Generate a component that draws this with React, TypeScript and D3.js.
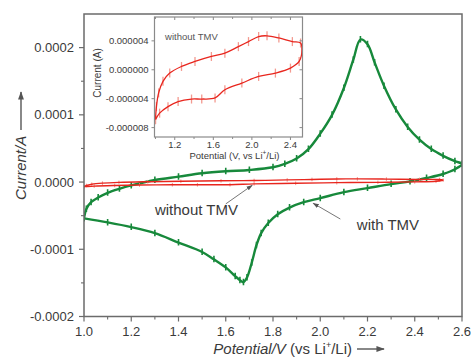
import React from 'react';
import * as d3 from 'd3';

const W = 473;
const H = 359;

// with TMV: anodic scan 1.0 -> 2.6 V, then cathodic scan back to 1.0 V
const withTmvPotential = [
  1.0, 1.01, 1.03, 1.06, 1.1, 1.15, 1.2, 1.3, 1.4, 1.5, 1.6, 1.7, 1.8, 1.85, 1.9, 1.95, 2.0, 2.05, 2.1, 2.14,
  2.17, 2.2, 2.23, 2.27, 2.32, 2.37, 2.42, 2.47, 2.52, 2.57, 2.6,
  2.57, 2.52, 2.45, 2.38, 2.3, 2.2, 2.1, 2.0, 1.93, 1.87, 1.82, 1.78, 1.75, 1.73, 1.71, 1.69, 1.675, 1.66,
  1.64, 1.6, 1.55, 1.5, 1.4, 1.3, 1.2, 1.1, 1.0,
];
const withTmvCurrent = [
  -5.4e-5, -4.0e-5, -3.0e-5, -2.3e-5, -1.6e-5, -1.0e-5, -0.5e-5, 0.3e-5, 0.8e-5, 1.3e-5, 1.6e-5, 1.8e-5, 2.2e-5,
  2.7e-5, 3.5e-5, 4.9e-5, 7.2e-5, 10.0e-5, 14.0e-5, 18.2e-5, 21.2e-5, 20.5e-5, 17.8e-5, 14.3e-5, 10.8e-5,
  8.2e-5, 6.3e-5, 4.9e-5, 3.9e-5, 3.1e-5, 2.7e-5,
  1.9e-5, 1.2e-5, 0.6e-5, 0.1e-5, -0.3e-5, -0.9e-5, -1.5e-5, -2.4e-5, -3.0e-5, -3.8e-5, -4.8e-5, -6.1e-5,
  -7.6e-5, -9.4e-5, -12.0e-5, -14.2e-5, -14.9e-5, -14.6e-5, -14.0e-5, -12.7e-5, -11.5e-5, -10.4e-5, -9.0e-5,
  -7.6e-5, -6.7e-5, -6.0e-5, -5.4e-5,
];

// without TMV (also shown enlarged in the inset)
const withoutTmvPotential = [
  1.0, 1.01, 1.033, 1.078, 1.148, 1.27, 1.41, 1.58, 1.72, 1.86, 1.965, 2.07, 2.157, 2.28, 2.42, 2.505, 2.52,
  2.49, 2.4, 2.244, 2.07, 1.896, 1.72, 1.618, 1.48, 1.374, 1.235, 1.13, 1.043, 1.0,
];
const withoutTmvCurrent = [
  -6.9e-6, -5.1e-6, -3.2e-6, -1.6e-6, -0.46e-6, 0.46e-6, 1.15e-6, 1.84e-6, 2.3e-6, 3.2e-6, 3.9e-6, 4.6e-6,
  4.7e-6, 4.4e-6, 3.9e-6, 3.7e-6, 2.8e-6,
  1.15e-6, 0.23e-6, -0.46e-6, -0.92e-6, -1.84e-6, -2.77e-6, -3.9e-6, -4.05e-6, -4.05e-6, -4.4e-6, -5.1e-6,
  -6.0e-6, -6.9e-6,
];

const mainXTicks = [1.0, 1.2, 1.4, 1.6, 1.8, 2.0, 2.2, 2.4, 2.6];
const mainXMinor = [1.1, 1.3, 1.5, 1.7, 1.9, 2.1, 2.3, 2.5];
const mainYTicks = [-0.0002, -0.0001, 0, 0.0001, 0.0002];
const mainYMinor = [-0.00015, -0.00005, 0.00005, 0.00015];
const insetXTicks = [1.2, 1.6, 2.0, 2.4];
const insetXMinor = [1.0, 1.4, 1.8, 2.2];
const insetYTicks = [-0.000008, -0.000004, 0, 0.000004];

const GREEN = '#17893b';
const RED = '#e8261e';
const AXIS = '#6b6b6b';
const TEXT = '#3a3a3a';
const FONT = '"Liberation Sans", Arial, sans-serif';

const fmt = d3.formatLocale({ decimal: '.', thousands: ',', grouping: [3], currency: ['', ''], minus: '-' });
const f4 = fmt.format('.4f');
const f6 = fmt.format('.6f');
const f1 = fmt.format('.1f');

const App: React.FC = () => {
  const x = d3.scaleLinear().domain([1.0, 2.6]).range([84, 462]);
  const y = d3.scaleLinear().domain([-0.0002, 0.00025]).range([316.5, 14]);
  const ix = d3.scaleLinear().domain([0.99, 2.525]).range([154.5, 302.5]);
  const iy = d3.scaleLinear().domain([-0.0000093, 0.0000073]).range([137, 17]);

  const withPts = withTmvPotential.map((v, i) => [v, withTmvCurrent[i]] as [number, number]);
  const withoutPts = withoutTmvPotential.map((v, i) => [v, withoutTmvCurrent[i]] as [number, number]);

  const mainLine = d3.line<[number, number]>().x(d => x(d[0])).y(d => y(d[1])).curve(d3.curveCatmullRom.alpha(0.5));
  const insetLine = d3.line<[number, number]>().x(d => ix(d[0])).y(d => iy(d[1])).curve(d3.curveCatmullRom.alpha(0.5));

  const [x0, x1] = x.range();
  const [yb, yt] = y.range();
  const [ix0, ix1] = ix.range();
  const [iyb, iyt] = iy.range();

  const annotations = [
    { label: 'without TMV', tx: 1.3, ty: -0.000049, from: [1.6, -0.0000325], to: [1.712, -0.0000048] },
    { label: 'with TMV', tx: 2.155, ty: -0.0000715, from: [2.085, -0.000055], to: [1.97, -0.0000315] },
  ];

  return (
    <svg width={W} height={H} style={{ position: 'absolute', left: 0, top: 0, background: '#fff' }} fontFamily={FONT}>
      <defs>
        <clipPath id="mainClip">
          <rect x={x0} y={yt} width={x1 - x0} height={yb - yt} />
        </clipPath>
        <marker id="arrowHead" viewBox="0 0 10 10" refX="9" refY="5" markerWidth="7" markerHeight="7" orient="auto">
          <path d="M0,1.5 L10,5 L0,8.5 Z" fill="#555" />
        </marker>
      </defs>

      {/* main curves */}
      <g clipPath="url(#mainClip)">
        <path d={mainLine(withPts) ?? ''} fill="none" stroke={GREEN} strokeWidth={2.4} />
        {withPts.map((d, i) => (
          <line key={'gs' + i} x1={x(d[0])} x2={x(d[0])} y1={y(d[1]) - 3.5} y2={y(d[1]) + 3} stroke={GREEN} strokeWidth={1.6} />
        ))}
        {withoutPts.map((d, i) => (
          <line key={'rs' + i} x1={x(d[0])} x2={x(d[0])} y1={y(d[1]) - 1.8} y2={y(d[1]) + 1.8} stroke="#f39189" strokeWidth={1} />
        ))}
        <path d={mainLine(withoutPts) ?? ''} fill="none" stroke={RED} strokeWidth={1.4} />
      </g>

      {/* main frame */}
      <rect x={x0} y={yt} width={x1 - x0} height={yb - yt} fill="none" stroke={AXIS} strokeWidth={1.5} />

      {/* main x axis */}
      {mainXTicks.map(t => (
        <g key={'mx' + t}>
          <line x1={x(t)} x2={x(t)} y1={yb} y2={yb + 5} stroke={AXIS} strokeWidth={1.2} />
          <text x={x(t)} y={yb + 19} textAnchor="middle" fontSize={13} fill={TEXT}>{f1(t)}</text>
        </g>
      ))}
      {mainXMinor.map(t => (
        <line key={'mxm' + t} x1={x(t)} x2={x(t)} y1={yb} y2={yb + 3} stroke={AXIS} strokeWidth={1.1} />
      ))}

      {/* main y axis */}
      {mainYTicks.map(t => (
        <g key={'my' + t}>
          <line x1={x0 - 5} x2={x0} y1={y(t)} y2={y(t)} stroke={AXIS} strokeWidth={1.2} />
          <text x={x0 - 10} y={y(t) + 4.5} textAnchor="end" fontSize={13} fill={TEXT}>{f4(t)}</text>
        </g>
      ))}
      {mainYMinor.map(t => (
        <line key={'mym' + t} x1={x0 - 3} x2={x0} y1={y(t)} y2={y(t)} stroke={AXIS} strokeWidth={1.1} />
      ))}

      {/* axis titles */}
      <g transform="translate(26,200) rotate(-90)">
        <text x={0} y={0} fontSize={15} fontStyle="italic" fill={TEXT}>Current/A</text>
        <line x1={70} x2={108} y1={-5} y2={-5} stroke={TEXT} strokeWidth={1.2} markerEnd="url(#arrowHead)" />
      </g>
      <g>
        <text x={352} y={354} textAnchor="end" fontSize={15} fill={TEXT}>
          <tspan fontStyle="italic">Potential/V</tspan>
          <tspan> (vs Li</tspan>
          <tspan fontSize={9} dy={-6}>+</tspan>
          <tspan dy={6}>/Li)</tspan>
        </text>
        <line x1={357} x2={384} y1={349} y2={349} stroke={TEXT} strokeWidth={1.2} markerEnd="url(#arrowHead)" />
      </g>

      {/* annotations */}
      {annotations.map(a => (
        <g key={a.label}>
          <line x1={x(a.from[0])} y1={y(a.from[1])} x2={x(a.to[0])} y2={y(a.to[1])} stroke="#666" strokeWidth={0.9} markerEnd="url(#arrowHead)" />
          <text x={x(a.tx)} y={y(a.ty)} fontSize={15} fill={TEXT}>{a.label}</text>
        </g>
      ))}

      {/* inset */}
      <g>
        <rect x={ix0} y={iyt} width={ix1 - ix0} height={iyb - iyt} fill="#fff" />
        {withoutPts.map((d, i) => (
          <line key={'is' + i} x1={ix(d[0])} x2={ix(d[0])} y1={iy(d[1]) - 4.5} y2={iy(d[1]) + 4.5} stroke="#f39a90" strokeWidth={1.3} />
        ))}
        <path d={insetLine(withoutPts) ?? ''} fill="none" stroke={RED} strokeWidth={1.3} />
        <rect x={ix0} y={iyt} width={ix1 - ix0} height={iyb - iyt} fill="none" stroke="#8a8a8a" strokeWidth={1.2} />
        {insetXTicks.map(t => (
          <g key={'ix' + t}>
            <line x1={ix(t)} x2={ix(t)} y1={iyb} y2={iyb + 3} stroke="#8a8a8a" />
            <line x1={ix(t)} x2={ix(t)} y1={iyt} y2={iyt + 3} stroke="#8a8a8a" />
            <text x={ix(t)} y={iyb + 10.5} textAnchor="middle" fontSize={9.5} fill={TEXT}>{f1(t)}</text>
          </g>
        ))}
        {insetXMinor.map(t => (
          <g key={'ixm' + t}>
            <line x1={ix(t)} x2={ix(t)} y1={iyb} y2={iyb + 2} stroke="#8a8a8a" />
            <line x1={ix(t)} x2={ix(t)} y1={iyt} y2={iyt + 2} stroke="#8a8a8a" />
          </g>
        ))}
        {insetYTicks.map(t => (
          <g key={'iy' + t}>
            <line x1={ix0 - 3} x2={ix0} y1={iy(t)} y2={iy(t)} stroke="#8a8a8a" />
            <line x1={ix1 - 3} x2={ix1} y1={iy(t)} y2={iy(t)} stroke="#8a8a8a" />
            <text x={ix0 - 6} y={iy(t) + 3.3} textAnchor="end" fontSize={9.5} fill={TEXT}>{f6(t)}</text>
          </g>
        ))}
        <text x={ix(1.1)} y={iy(0.0000041)} fontSize={9.5} fill="#555">without TMV</text>
        <text transform={`translate(101,${(iyt + iyb) / 2 - 4}) rotate(-90)`} textAnchor="middle" fontSize={10} fill={TEXT}>Current (A)</text>
        <text x={(ix0 + ix1) / 2 + 6} y={iyb + 22} textAnchor="middle" fontSize={9.5} fill={TEXT}>
          Potential (V, vs Li<tspan fontSize={6.5} dy={-4}>+</tspan><tspan dy={4}>/Li)</tspan>
        </text>
      </g>
    </svg>
  );
};

export default App;
